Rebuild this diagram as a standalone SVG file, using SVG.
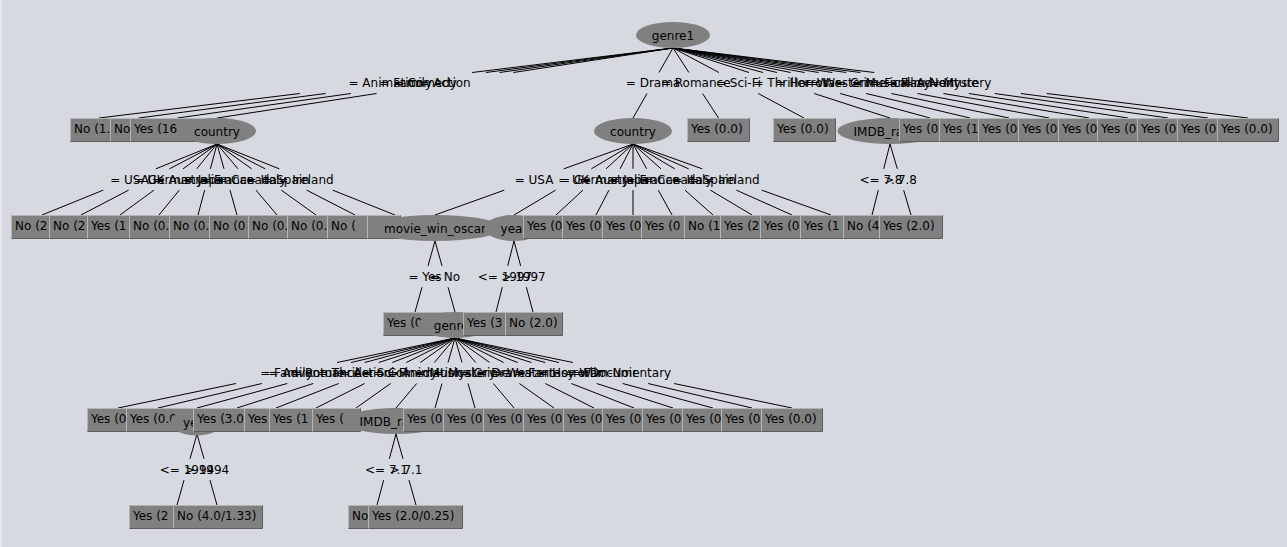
<svg xmlns="http://www.w3.org/2000/svg" width="1287" height="547" viewBox="0 0 1287 547">
<style>
text{font-family:"DejaVu Sans","Liberation Sans",sans-serif;font-size:12px;fill:#000}
.lbl text,.nt{text-anchor:middle}
.bx{fill:#808080;stroke:#b4b4b4;stroke-width:1}
.sh{fill:none;stroke:#5e5e5e;stroke-width:1}
.el{fill:#808080}
#connectors path{fill:none;stroke:#000;stroke-width:1}
</style>
<rect x="0" y="0" width="1287" height="547" fill="#d6d9e0"/>
<rect x="0" y="0" width="2" height="547" fill="#e4e6ea"/>
<g id="connectors">
<path d="M673 48L472.1 72.5M299.9 93.5L99 118"/>
<path d="M673 48L485.9 72.5M325.6 93.5L138.5 118"/>
<path d="M673 48L499.6 72.5M350.9 93.5L177.5 118"/>
<path d="M673 48L513.4 72.5M376.6 93.5L217 118"/>
<path d="M673 48L659 72.5M647 93.5L633 118"/>
<path d="M673 48L688.9 72.5M702.6 93.5L718.5 118"/>
<path d="M673 48L718.9 72.5M758.2 93.5L804 118"/>
<path d="M673 48L749 72.5M814.1 93.5L890 118"/>
<path d="M673 48L763 72.5M840.1 93.5L930 118"/>
<path d="M673 48L777 72.5M866.1 93.5L970 118"/>
<path d="M673 48L790.6 72.5M891.4 93.5L1009 118"/>
<path d="M673 48L804.6 72.5M917.4 93.5L1049 118"/>
<path d="M673 48L818.6 72.5M943.4 93.5L1089 118"/>
<path d="M673 48L832.3 72.5M968.8 93.5L1128 118"/>
<path d="M673 48L846.3 72.5M994.8 93.5L1168 118"/>
<path d="M673 48L860.3 72.5M1020.8 93.5L1208 118"/>
<path d="M673 48L874.3 72.5M1046.8 93.5L1248 118"/>
<path d="M217 144L155.75 168.85M103.25 190.15L42 215"/>
<path d="M217 144L169.4 168.85M128.6 190.15L81 215"/>
<path d="M217 144L183.05 168.85M153.95 190.15L120 215"/>
<path d="M217 144L196.7 168.85M179.3 190.15L159 215"/>
<path d="M217 144L210.35 168.85M204.65 190.15L198 215"/>
<path d="M217 144L224 168.85M230 190.15L237 215"/>
<path d="M217 144L238 168.85M256 190.15L277 215"/>
<path d="M217 144L251.65 168.85M281.35 190.15L316 215"/>
<path d="M217 144L265.3 168.85M306.7 190.15L355 215"/>
<path d="M217 144L279.3 168.85M332.7 190.15L395 215"/>
<path d="M633 144L563.7 168.85M504.3 190.15L435 215"/>
<path d="M633 144L591.35 168.85M555.65 190.15L514 215"/>
<path d="M633 144L606.05 168.85M582.95 190.15L556 215"/>
<path d="M633 144L620.05 168.85M608.95 190.15L596 215"/>
<path d="M633 144L633 168.85M633 190.15L633 215"/>
<path d="M633 144L646.65 168.85M658.35 190.15L672 215"/>
<path d="M633 144L661 168.85M685 190.15L713 215"/>
<path d="M633 144L674.65 168.85M710.35 190.15L752 215"/>
<path d="M633 144L688.65 168.85M736.35 190.15L792 215"/>
<path d="M633 144L702.3 168.85M761.7 190.15L831 215"/>
<path d="M890 144L883.7 168.85M878.3 190.15L872 215"/>
<path d="M890 144L897.35 168.85M903.65 190.15L911 215"/>
<path d="M435 241L428 265.85M422 287.15L415 312"/>
<path d="M435 241L442 265.85M448 287.15L455 312"/>
<path d="M514 241L507.7 265.85M502.3 287.15L496 312"/>
<path d="M514 241L520.65 265.85M526.35 287.15L533 312"/>
<path d="M455 338L337.05 362.5M235.95 383.5L118 408"/>
<path d="M455 338L351.05 362.5M261.95 383.5L158 408"/>
<path d="M455 338L364.7 362.5M287.3 383.5L197 408"/>
<path d="M455 338L378.7 362.5M313.3 383.5L237 408"/>
<path d="M455 338L392.35 362.5M338.65 383.5L276 408"/>
<path d="M455 338L406.35 362.5M364.65 383.5L316 408"/>
<path d="M455 338L420.35 362.5M390.65 383.5L356 408"/>
<path d="M455 338L434.35 362.5M416.65 383.5L396 408"/>
<path d="M455 338L448 362.5M442 383.5L435 408"/>
<path d="M455 338L462 362.5M468 383.5L475 408"/>
<path d="M455 338L475.65 362.5M493.35 383.5L514 408"/>
<path d="M455 338L489.65 362.5M519.35 383.5L554 408"/>
<path d="M455 338L503.65 362.5M545.35 383.5L594 408"/>
<path d="M455 338L517.65 362.5M571.35 383.5L634 408"/>
<path d="M455 338L531.3 362.5M596.7 383.5L673 408"/>
<path d="M455 338L545.3 362.5M622.7 383.5L713 408"/>
<path d="M455 338L558.95 362.5M648.05 383.5L752 408"/>
<path d="M455 338L572.95 362.5M674.05 383.5L792 408"/>
<path d="M197 434L190 458.85M184 480.15L177 505"/>
<path d="M197 434L204 458.85M210 480.15L217 505"/>
<path d="M396 434L389.35 458.85M383.65 480.15L377 505"/>
<path d="M396 434L403 458.85M409 480.15L416 505"/>
</g>
<g id="edge-labels" class="lbl">
<text x="386" y="87">= Animation</text>
<text x="405.75" y="87">= Family</text>
<text x="425.25" y="87">= Comedy</text>
<text x="445" y="87">= Action</text>
<text x="653" y="87">= Drama</text>
<text x="695.75" y="87">= Romance</text>
<text x="738.5" y="87">= Sci-Fi</text>
<text x="781.5" y="87">= Thriller</text>
<text x="801.5" y="87">= Horror</text>
<text x="821.5" y="87">= War</text>
<text x="841" y="87">= Western</text>
<text x="861" y="87">= Crime</text>
<text x="881" y="87">= Musical</text>
<text x="900.5" y="87">= Fantasy</text>
<text x="920.5" y="87">= Film-Noir</text>
<text x="940.5" y="87">= Adventure</text>
<text x="960.5" y="87">= Mystery</text>
<text x="129.5" y="183.5">= USA</text>
<text x="149" y="183.5">= UK</text>
<text x="168.5" y="183.5">= Germany</text>
<text x="188" y="183.5">= Australia</text>
<text x="207.5" y="183.5">= Japan</text>
<text x="227" y="183.5">= France</text>
<text x="247" y="183.5">= Canada</text>
<text x="266.5" y="183.5">= Italy</text>
<text x="286" y="183.5">= Spain</text>
<text x="306" y="183.5">= Ireland</text>
<text x="534" y="183.5">= USA</text>
<text x="573.5" y="183.5">= UK</text>
<text x="594.5" y="183.5">= Germany</text>
<text x="614.5" y="183.5">= Australia</text>
<text x="633" y="183.5">= Japan</text>
<text x="652.5" y="183.5">= France</text>
<text x="673" y="183.5">= Canada</text>
<text x="692.5" y="183.5">= Italy</text>
<text x="712.5" y="183.5">= Spain</text>
<text x="732" y="183.5">= Ireland</text>
<text x="881" y="183.5">&lt;= 7.8</text>
<text x="900.5" y="183.5">&gt; 7.8</text>
<text x="425" y="280.5">= Yes</text>
<text x="445" y="280.5">= No</text>
<text x="505" y="280.5">&lt;= 1997</text>
<text x="523.5" y="280.5">&gt; 1997</text>
<text x="286.5" y="377">= Family</text>
<text x="306.5" y="377">= Adventure</text>
<text x="326" y="377">= Romance</text>
<text x="346" y="377">= Thriller</text>
<text x="365.5" y="377">= Action</text>
<text x="385.5" y="377">= Sci-Fi</text>
<text x="405.5" y="377">= Comedy</text>
<text x="425.5" y="377">= Animation</text>
<text x="445" y="377">= Musical</text>
<text x="465" y="377">= Mystery</text>
<text x="484.5" y="377">= Crime</text>
<text x="504.5" y="377">= Drama</text>
<text x="524.5" y="377">= Western</text>
<text x="544.5" y="377">= Fantasy</text>
<text x="564" y="377">= Horror</text>
<text x="584" y="377">= War</text>
<text x="603.5" y="377">= Film-Noir</text>
<text x="623.5" y="377">= Documentary</text>
<text x="187" y="473.5">&lt;= 1994</text>
<text x="207" y="473.5">&gt; 1994</text>
<text x="386.5" y="473.5">&lt;= 7.1</text>
<text x="406" y="473.5">&gt; 7.1</text>
</g>
<g id="nodes">
<g id="n-genre1"><ellipse class="el" cx="673" cy="35" rx="37" ry="13"/><text class="nt" x="673" y="39.5">genre1</text></g>
<g id="n1-1"><rect class="bx" x="70.5" y="118.5" width="42" height="23"/><path class="sh" d="M70.5 141.5H112.5V118.5"/><text x="74" y="133">No (1.</text></g>
<g id="n1-2"><rect class="bx" x="110.5" y="118.5" width="22" height="23"/><path class="sh" d="M110.5 141.5H132.5V118.5"/><text x="114" y="133">No</text></g>
<g id="n1-3"><rect class="bx" x="130.5" y="118.5" width="95" height="23"/><path class="sh" d="M130.5 141.5H225.5V118.5"/><text x="134" y="133">Yes (16</text></g>
<g id="n-country1"><ellipse class="el" cx="217" cy="131" rx="39" ry="13"/><text class="nt" x="217" y="135.5">country</text></g>
<g id="n-country2"><ellipse class="el" cx="633" cy="131" rx="39" ry="13"/><text class="nt" x="633" y="135.5">country</text></g>
<g id="n1-6"><rect class="bx" x="687.5" y="118.5" width="62" height="23"/><path class="sh" d="M687.5 141.5H749.5V118.5"/><text x="691" y="133">Yes (0.0)</text></g>
<g id="n1-7"><rect class="bx" x="773.5" y="118.5" width="62" height="23"/><path class="sh" d="M773.5 141.5H835.5V118.5"/><text x="777" y="133">Yes (0.0)</text></g>
<g id="n-imdb1"><ellipse class="el" cx="890" cy="131" rx="52.5" ry="13"/><text class="nt" x="890" y="135.5">IMDB_rating</text></g>
<g id="n1-9"><rect class="bx" x="899.5" y="118.5" width="42" height="23"/><path class="sh" d="M899.5 141.5H941.5V118.5"/><text x="903" y="133">Yes (0</text></g>
<g id="n1-10"><rect class="bx" x="939.5" y="118.5" width="42" height="23"/><path class="sh" d="M939.5 141.5H981.5V118.5"/><text x="943" y="133">Yes (1</text></g>
<g id="n1-11"><rect class="bx" x="978.5" y="118.5" width="42" height="23"/><path class="sh" d="M978.5 141.5H1020.5V118.5"/><text x="982" y="133">Yes (0</text></g>
<g id="n1-12"><rect class="bx" x="1018.5" y="118.5" width="42" height="23"/><path class="sh" d="M1018.5 141.5H1060.5V118.5"/><text x="1022" y="133">Yes (0</text></g>
<g id="n1-13"><rect class="bx" x="1058.5" y="118.5" width="42" height="23"/><path class="sh" d="M1058.5 141.5H1100.5V118.5"/><text x="1062" y="133">Yes (0</text></g>
<g id="n1-14"><rect class="bx" x="1097.5" y="118.5" width="42" height="23"/><path class="sh" d="M1097.5 141.5H1139.5V118.5"/><text x="1101" y="133">Yes (0</text></g>
<g id="n1-15"><rect class="bx" x="1137.5" y="118.5" width="42" height="23"/><path class="sh" d="M1137.5 141.5H1179.5V118.5"/><text x="1141" y="133">Yes (0</text></g>
<g id="n1-16"><rect class="bx" x="1177.5" y="118.5" width="42" height="23"/><path class="sh" d="M1177.5 141.5H1219.5V118.5"/><text x="1181" y="133">Yes (0</text></g>
<g id="n1-17"><rect class="bx" x="1217.5" y="118.5" width="61" height="23"/><path class="sh" d="M1217.5 141.5H1278.5V118.5"/><text x="1221" y="133">Yes (0.0)</text></g>
<g id="n2-1"><rect class="bx" x="11.5" y="215.5" width="40" height="23"/><path class="sh" d="M11.5 238.5H51.5V215.5"/><text x="15" y="230">No (2</text></g>
<g id="n2-2"><rect class="bx" x="49.5" y="215.5" width="40" height="23"/><path class="sh" d="M49.5 238.5H89.5V215.5"/><text x="53" y="230">No (2</text></g>
<g id="n2-3"><rect class="bx" x="87.5" y="215.5" width="44" height="23"/><path class="sh" d="M87.5 238.5H131.5V215.5"/><text x="91" y="230">Yes (1</text></g>
<g id="n2-4"><rect class="bx" x="129.5" y="215.5" width="42" height="23"/><path class="sh" d="M129.5 238.5H171.5V215.5"/><text x="133" y="230">No (0.</text></g>
<g id="n2-5"><rect class="bx" x="169.5" y="215.5" width="42" height="23"/><path class="sh" d="M169.5 238.5H211.5V215.5"/><text x="173" y="230">No (0.</text></g>
<g id="n2-6"><rect class="bx" x="209.5" y="215.5" width="41" height="23"/><path class="sh" d="M209.5 238.5H250.5V215.5"/><text x="213" y="230">No (0</text></g>
<g id="n2-7"><rect class="bx" x="248.5" y="215.5" width="41" height="23"/><path class="sh" d="M248.5 238.5H289.5V215.5"/><text x="252" y="230">No (0.</text></g>
<g id="n2-8"><rect class="bx" x="287.5" y="215.5" width="42" height="23"/><path class="sh" d="M287.5 238.5H329.5V215.5"/><text x="291" y="230">No (0.</text></g>
<g id="n2-9"><rect class="bx" x="327.5" y="215.5" width="42" height="23"/><path class="sh" d="M327.5 238.5H369.5V215.5"/><text x="331" y="230">No (</text></g>
<g id="n2-10"><rect class="bx" x="367.5" y="215.5" width="33" height="23"/><path class="sh" d="M367.5 238.5H400.5V215.5"/></g>
<g id="n-movie"><ellipse class="el" cx="435" cy="228" rx="67" ry="13"/><text class="nt" x="435" y="232.5">movie_win_oscar</text></g>
<g id="n-year1"><ellipse class="el" cx="514" cy="228" rx="29.5" ry="13"/><text class="nt" x="514" y="232.5">year</text></g>
<g id="n2-13"><rect class="bx" x="523.5" y="215.5" width="41" height="23"/><path class="sh" d="M523.5 238.5H564.5V215.5"/><text x="527" y="230">Yes (0</text></g>
<g id="n2-14"><rect class="bx" x="562.5" y="215.5" width="42" height="23"/><path class="sh" d="M562.5 238.5H604.5V215.5"/><text x="566" y="230">Yes (0</text></g>
<g id="n2-15"><rect class="bx" x="602.5" y="215.5" width="41" height="23"/><path class="sh" d="M602.5 238.5H643.5V215.5"/><text x="606" y="230">Yes (0</text></g>
<g id="n2-16"><rect class="bx" x="641.5" y="215.5" width="45" height="23"/><path class="sh" d="M641.5 238.5H686.5V215.5"/><text x="645" y="230">Yes (0</text></g>
<g id="n2-17"><rect class="bx" x="684.5" y="215.5" width="38" height="23"/><path class="sh" d="M684.5 238.5H722.5V215.5"/><text x="688" y="230">No (1</text></g>
<g id="n2-18"><rect class="bx" x="720.5" y="215.5" width="42" height="23"/><path class="sh" d="M720.5 238.5H762.5V215.5"/><text x="724" y="230">Yes (2</text></g>
<g id="n2-19"><rect class="bx" x="760.5" y="215.5" width="42" height="23"/><path class="sh" d="M760.5 238.5H802.5V215.5"/><text x="764" y="230">Yes (0</text></g>
<g id="n2-20"><rect class="bx" x="800.5" y="215.5" width="45" height="23"/><path class="sh" d="M800.5 238.5H845.5V215.5"/><text x="804" y="230">Yes (1</text></g>
<g id="n2-21"><rect class="bx" x="843.5" y="215.5" width="38" height="23"/><path class="sh" d="M843.5 238.5H881.5V215.5"/><text x="847" y="230">No (4</text></g>
<g id="n2-22"><rect class="bx" x="879.5" y="215.5" width="63" height="23"/><path class="sh" d="M879.5 238.5H942.5V215.5"/><text x="883" y="230">Yes (2.0)</text></g>
<g id="n3-1"><rect class="bx" x="383.5" y="312.5" width="63" height="23"/><path class="sh" d="M383.5 335.5H446.5V312.5"/><text x="387" y="327">Yes (0</text></g>
<g id="n-genre2"><ellipse class="el" cx="455" cy="325" rx="37" ry="13"/><text class="nt" x="455" y="329.5">genre2</text></g>
<g id="n3-3"><rect class="bx" x="463.5" y="312.5" width="44" height="23"/><path class="sh" d="M463.5 335.5H507.5V312.5"/><text x="467" y="327">Yes (3</text></g>
<g id="n3-4"><rect class="bx" x="505.5" y="312.5" width="57" height="23"/><path class="sh" d="M505.5 335.5H562.5V312.5"/><text x="509" y="327">No (2.0)</text></g>
<g id="n4-1"><rect class="bx" x="87.5" y="408.5" width="41" height="23"/><path class="sh" d="M87.5 431.5H128.5V408.5"/><text x="91" y="423">Yes (0</text></g>
<g id="n4-2"><rect class="bx" x="126.5" y="408.5" width="69" height="23"/><path class="sh" d="M126.5 431.5H195.5V408.5"/><text x="130" y="423">Yes (0.0</text></g>
<g id="n-year2"><ellipse class="el" cx="196.5" cy="422.5" rx="26" ry="13"/><text class="nt" x="196.5" y="427">year</text></g>
<g id="n4-4"><rect class="bx" x="193.5" y="408.5" width="53" height="23"/><path class="sh" d="M193.5 431.5H246.5V408.5"/><text x="197" y="423">Yes (3.0</text></g>
<g id="n4-5"><rect class="bx" x="244.5" y="408.5" width="27" height="23"/><path class="sh" d="M244.5 431.5H271.5V408.5"/><text x="248" y="423">Yes</text></g>
<g id="n4-6"><rect class="bx" x="269.5" y="408.5" width="45" height="23"/><path class="sh" d="M269.5 431.5H314.5V408.5"/><text x="273" y="423">Yes (1</text></g>
<g id="n4-7"><rect class="bx" x="312.5" y="408.5" width="48" height="23"/><path class="sh" d="M312.5 431.5H360.5V408.5"/><text x="316" y="423">Yes (</text></g>
<g id="n-imdb2"><ellipse class="el" cx="396" cy="421" rx="52.5" ry="13"/><text class="nt" x="396" y="425.5">IMDB_rating</text></g>
<g id="n4-9"><rect class="bx" x="403.5" y="408.5" width="42" height="23"/><path class="sh" d="M403.5 431.5H445.5V408.5"/><text x="407" y="423">Yes (0</text></g>
<g id="n4-10"><rect class="bx" x="443.5" y="408.5" width="41" height="23"/><path class="sh" d="M443.5 431.5H484.5V408.5"/><text x="447" y="423">Yes (0</text></g>
<g id="n4-11"><rect class="bx" x="483.5" y="408.5" width="41" height="23"/><path class="sh" d="M483.5 431.5H524.5V408.5"/><text x="487" y="423">Yes (0</text></g>
<g id="n4-12"><rect class="bx" x="523.5" y="408.5" width="41" height="23"/><path class="sh" d="M523.5 431.5H564.5V408.5"/><text x="527" y="423">Yes (0</text></g>
<g id="n4-13"><rect class="bx" x="563.5" y="408.5" width="40" height="23"/><path class="sh" d="M563.5 431.5H603.5V408.5"/><text x="567" y="423">Yes (0</text></g>
<g id="n4-14"><rect class="bx" x="602.5" y="408.5" width="41" height="23"/><path class="sh" d="M602.5 431.5H643.5V408.5"/><text x="606" y="423">Yes (0</text></g>
<g id="n4-15"><rect class="bx" x="642.5" y="408.5" width="41" height="23"/><path class="sh" d="M642.5 431.5H683.5V408.5"/><text x="646" y="423">Yes (0</text></g>
<g id="n4-16"><rect class="bx" x="682.5" y="408.5" width="40" height="23"/><path class="sh" d="M682.5 431.5H722.5V408.5"/><text x="686" y="423">Yes (0</text></g>
<g id="n4-17"><rect class="bx" x="721.5" y="408.5" width="41" height="23"/><path class="sh" d="M721.5 431.5H762.5V408.5"/><text x="725" y="423">Yes (0</text></g>
<g id="n4-18"><rect class="bx" x="761.5" y="408.5" width="61" height="23"/><path class="sh" d="M761.5 431.5H822.5V408.5"/><text x="765" y="423">Yes (0.0)</text></g>
<g id="n5-1"><rect class="bx" x="129.5" y="505.5" width="45" height="23"/><path class="sh" d="M129.5 528.5H174.5V505.5"/><text x="133" y="520">Yes (2</text></g>
<g id="n5-2"><rect class="bx" x="173.5" y="505.5" width="89" height="23"/><path class="sh" d="M173.5 528.5H262.5V505.5"/><text x="177" y="520">No (4.0/1.33)</text></g>
<g id="n5-3"><rect class="bx" x="348.5" y="505.5" width="22" height="23"/><path class="sh" d="M348.5 528.5H370.5V505.5"/><text x="352" y="520">No</text></g>
<g id="n5-4"><rect class="bx" x="368.5" y="505.5" width="94" height="23"/><path class="sh" d="M368.5 528.5H462.5V505.5"/><text x="372" y="520">Yes (2.0/0.25)</text></g>
</g>
</svg>
